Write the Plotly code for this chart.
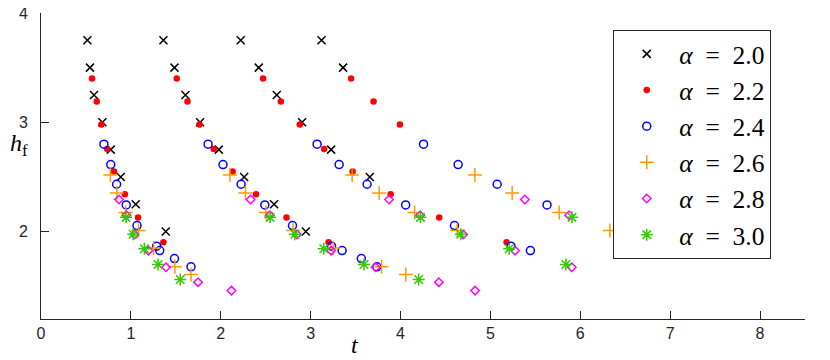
import plotly.graph_objects as go

# alpha = 2.0
t_a20 = [0.516, 0.545, 0.590, 0.683, 0.776, 0.887, 1.054, 1.388,
         1.362, 1.485, 1.607, 1.770, 1.978, 2.260, 2.593, 2.946,
         2.222, 2.423, 2.623, 2.905, 3.228, 3.658,
         3.121, 3.361]
h_a20 = [3.75, 3.5, 3.25, 3.0, 2.75, 2.5, 2.25, 2.0,
         3.75, 3.5, 3.25, 3.0, 2.75, 2.5, 2.25, 2.0,
         3.75, 3.5, 3.25, 3.0, 2.75, 2.5,
         3.75, 3.5]

# alpha = 2.2
t_a22 = [0.568, 0.620, 0.672, 0.737, 0.812, 0.933, 1.080, 1.362,
         1.510, 1.630, 1.763, 1.922, 2.132, 2.392, 2.731, 3.200,
         2.471, 2.668, 2.879, 3.150, 3.467, 3.890, 4.430, 5.180,
         3.450, 3.700, 3.993]
h_a22 = [3.40, 3.19, 2.98, 2.756, 2.549, 2.341, 2.128, 1.902,
         3.40, 3.19, 2.98, 2.756, 2.549, 2.341, 2.128, 1.902,
         3.40, 3.19, 2.98, 2.756, 2.549, 2.341, 2.128, 1.902,
         3.40, 3.19, 2.98]

# alpha = 2.4
t_a24 = [0.700, 0.776, 0.841, 0.948, 1.068, 1.286, 1.321, 1.485, 1.669,
         1.859, 2.025, 2.226, 2.490, 2.798, 3.232, 3.350, 3.564, 3.737,
         3.072, 3.317, 3.628, 4.057, 4.600, 5.229, 5.445,
         4.256, 4.641, 5.075, 5.630]
h_a24 = [2.80, 2.613, 2.433, 2.244, 2.055, 1.866, 1.826, 1.753, 1.677,
         2.80, 2.613, 2.433, 2.244, 2.055, 1.866, 1.826, 1.753, 1.677,
         2.80, 2.613, 2.433, 2.244, 2.055, 1.866, 1.826,
         2.80, 2.613, 2.433, 2.244]

# alpha = 2.6
t_a26 = [0.772, 0.844, 0.942, 1.085, 1.253, 1.489, 1.669,
         2.102, 2.275, 2.502, 2.805, 3.250, 3.789, 4.059,
         3.462, 3.762, 4.157, 4.630,
         4.827, 5.242, 5.765, 6.329]
h_a26 = [2.518, 2.354, 2.175, 2.010, 1.850, 1.677, 1.607,
         2.518, 2.354, 2.175, 2.010, 1.850, 1.677, 1.607,
         2.518, 2.354, 2.175, 2.010,
         2.518, 2.354, 2.175, 2.010]

# alpha = 2.8
t_a28 = [0.868, 0.950, 1.040, 1.195, 1.391, 1.747, 2.119,
         2.332, 2.545, 2.848, 3.228, 3.724, 4.426, 4.830,
         3.873, 4.218, 4.697, 5.274, 5.905,
         5.383, 5.875]
h_a28 = [2.293, 2.150, 1.973, 1.826, 1.674, 1.537, 1.460,
         2.293, 2.150, 1.973, 1.826, 1.674, 1.537, 1.460,
         2.293, 2.150, 1.973, 1.826, 1.674,
         2.293, 2.150]

# alpha = 3.0
t_a30 = [0.946, 1.026, 1.150, 1.302, 1.549,
         2.549, 2.824, 3.146, 3.593, 4.202,
         4.222, 4.671, 5.209, 5.840,
         5.908]
h_a30 = [2.130, 1.975, 1.842, 1.698, 1.561,
         2.130, 1.975, 1.842, 1.698, 1.561,
         2.130, 1.975, 1.842, 1.698,
         2.130]

x_ticks = [0, 1, 2, 3, 4, 5, 6, 7, 8]
y_ticks = [2, 3, 4]

AXIS_COLOR = "#262626"
SERIF = "Liberation Serif, DejaVu Serif, serif"

series = [
    ("2.0", t_a20, h_a20, dict(symbol="x-thin", size=8, color="black",
                               line=dict(color="black", width=1.5))),
    ("2.2", t_a22, h_a22, dict(symbol="circle", size=6.5, color="#ff0000",
                               line=dict(width=0))),
    ("2.4", t_a24, h_a24, dict(symbol="circle-open", size=8, color="#0000ff",
                               line=dict(color="#0000ff", width=1.5))),
    ("2.6", t_a26, h_a26, dict(symbol="cross-thin", size=10, color="#ff9900",
                               line=dict(color="#ff9900", width=1.5))),
    ("2.8", t_a28, h_a28, dict(symbol="diamond-open", size=6.5, color="#ff00ff",
                               line=dict(color="#ff00ff", width=1.5))),
    ("3.0", t_a30, h_a30, dict(symbol="asterisk-open", size=10, color="#33cc00",
                               line=dict(color="#33cc00", width=1.5))),
]

fig = go.Figure()
for label, t, h, marker in series:
    fig.add_trace(
        go.Scatter(
            x=t,
            y=h,
            mode="markers",
            name=f"<i>α</i>\u2002=\u2002{label}",
            marker=marker,
        )
    )

# the page body has an 8px margin, so the figure is a bit smaller than the window
fig.update_layout(
    width=822,
    height=352,
    margin=dict(l=33.3, r=25, t=5.3, b=40.7),
    paper_bgcolor="white",
    plot_bgcolor="white",
    showlegend=True,
    legend=dict(
        x=0.749,
        y=0.945,
        xanchor="left",
        yanchor="top",
        bgcolor="white",
        bordercolor=AXIS_COLOR,
        borderwidth=1,
        itemwidth=55,
        font=dict(family=SERIF, size=25.5, color="black"),
    ),
    font=dict(family="Liberation Sans, Arial, sans-serif", size=16, color=AXIS_COLOR),
)

fig.update_xaxes(
    range=[0, 8.5],
    tickvals=x_ticks,
    ticks="inside",
    ticklen=8,
    tickcolor=AXIS_COLOR,
    showline=True,
    linecolor=AXIS_COLOR,
    linewidth=1,
    showgrid=False,
    zeroline=False,
    automargin=False,
    ticklabelstandoff=0,
    ticklabeloverflow="allow",
)
fig.update_yaxes(
    range=[1.2, 4],
    tickvals=y_ticks,
    ticks="inside",
    ticklen=8,
    tickcolor=AXIS_COLOR,
    showline=True,
    linecolor=AXIS_COLOR,
    linewidth=1,
    showgrid=False,
    zeroline=False,
    automargin=False,
    ticklabelstandoff=9,
    ticklabeloverflow="allow",
)

# axis labels placed where the original puts them
fig.add_annotation(
    text="<i>t</i>", xref="paper", yref="paper",
    x=(355 - 41.3) / 763.7, y=-0.084,
    xanchor="center", yanchor="middle",
    showarrow=False, font=dict(family=SERIF, size=24, color="black"),
)
fig.add_annotation(
    text="<i>h</i><sub>f</sub>", xref="paper", yref="paper",
    x=-0.029, y=0.568,
    xanchor="center", yanchor="middle",
    showarrow=False, font=dict(family=SERIF, size=24, color="black"),
)

fig.write_html("out.html")
